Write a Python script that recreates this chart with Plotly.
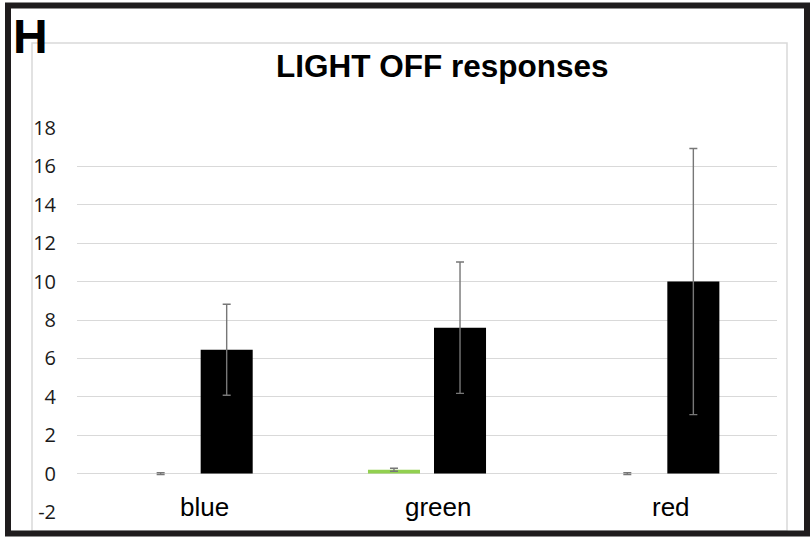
import plotly.graph_objects as go

categories = ["blue", "green", "red"]
light_values = [0.0, 0.2, 0.0]
light_errors = [0.05, 0.08, 0.05]
light_colors = ["#0070C0", "#92D050", "#FF0000"]
dark_values = [6.45, 7.6, 10.0]
dark_errors = [2.37, 3.42, 6.93]
y_ticks = [-2, 0, 2, 4, 6, 8, 10, 12, 14, 16, 18]
y_tick_labels = ["-2", "0", "2", "4", "6", "8", "10", "12", "14", "16", "18"]

L, R, T, B = 77, 33, 128, 29
W, H = 810, 541
pw, ph = W - L - R, H - T - B

def px(x):
    return (x - L) / pw

def py(y):
    return (H - B - y) / ph

err_style = dict(type="data", visible=True, color="#777777", thickness=1.4, width=4)

fig = go.Figure()
fig.add_trace(go.Bar(
    x=categories, y=light_values, marker=dict(color=light_colors, line=dict(width=0)),
    error_y=dict(array=light_errors, **err_style), name="light", showlegend=False,
))
fig.add_trace(go.Bar(
    x=categories, y=dark_values, marker=dict(color="#000000", line=dict(width=0)),
    error_y=dict(array=dark_errors, **err_style), name="dark", showlegend=False,
))

annotations = []
for c in categories:
    annotations.append(dict(
        x=c, y=-1.72, xref="x", yref="y", text=c, showarrow=False, xshift=11,
        font=dict(family="Liberation Sans, Arial", size=26, color="#000000"),
        xanchor="center", yanchor="middle",
    ))
annotations.append(dict(
    x=px(11), y=py(36), xref="paper", yref="paper", text="<b>H</b>", showarrow=False,
    font=dict(family="Liberation Sans, Arial", size=48, color="#000000"),
    xanchor="left", yanchor="middle",
))
annotations.append(dict(
    x=px(442.5), y=py(66), xref="paper", yref="paper", text="<b>LIGHT OFF responses</b>",
    showarrow=False, font=dict(family="Liberation Sans, Arial", size=31.5, color="#000000"),
    xanchor="center", yanchor="middle",
))

shapes = [
    dict(type="rect", xref="paper", yref="paper", x0=px(32), x1=px(787), y0=py(531), y1=py(43),
         line=dict(color="#d9d9d9", width=1.5), layer="below"),
    dict(type="rect", xref="paper", yref="paper", x0=px(8), x1=px(807), y0=py(533.5), y1=py(5.5),
         line=dict(color="#1f1c1d", width=6), layer="above"),
]

fig.update_layout(
    width=W, height=H, margin=dict(l=L, r=R, t=T, b=B),
    paper_bgcolor="white", plot_bgcolor="white",
    barmode="group", bargap=0.434, bargroupgap=0.212,
    annotations=annotations, shapes=shapes,
    xaxis=dict(showticklabels=False, showgrid=False, zeroline=False, showline=False, ticks=""),
    yaxis=dict(range=[-2, 18], tickvals=y_ticks, ticktext=y_tick_labels,
               showgrid=True, gridcolor="#d9d9d9", gridwidth=1,
               zeroline=True, zerolinecolor="#d9d9d9", zerolinewidth=1, showline=False,
               ticks="", ticklabelstandoff=20,
               tickfont=dict(family="Open Sans, Liberation Sans", size=20, color="#1a1a1a")),
    font=dict(family="Liberation Sans, Arial"),
)

fig.write_html("out.html", config={"displayModeBar": False},
               post_script="document.body.style.margin='0';document.body.style.overflow='hidden';")
